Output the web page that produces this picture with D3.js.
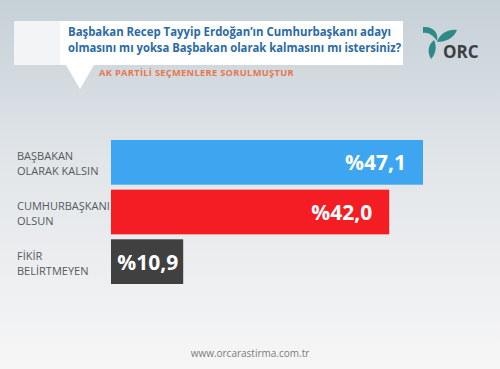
<!DOCTYPE html>
<html><head><meta charset="utf-8">
<script src="https://cdn.jsdelivr.net/npm/d3@7"></script>
<style>body{margin:0;padding:0;overflow:hidden}svg{display:block}</style>
</head><body>
<script>
const categories = [["BAŞBAKAN","OLARAK KALSIN"],["CUMHURBAŞKANI","OLSUN"],["FİKİR","BELİRTMEYEN"]];
const values = [47.1, 42.0, 10.9];
const valueLabels = ["%47,1","%42,0","%10,9"];
const barColors = ["#3ea5f0","#f41d24","#404040"];
const titleLines = ["Başbakan Recep Tayyip Erdoğan’ın Cumhurbaşkanı adayı","olmasını mı yoksa Başbakan olarak kalmasını mı istersiniz?"];
const subtitle = "AK PARTİLİ SEÇMENLERE SORULMUŞTUR";
const footer = "www.orcarastirma.com.tr";

const W=500,H=369;
const svg=d3.select("body").append("svg").attr("width",W).attr("height",H);
const defs=svg.append("defs");
const g=defs.append("linearGradient").attr("id","bg").attr("x1",0).attr("y1",0).attr("x2",0).attr("y2",1);
g.append("stop").attr("offset","0%").attr("stop-color","#c5d0d7");
g.append("stop").attr("offset","45%").attr("stop-color","#e2e6e9");
g.append("stop").attr("offset","100%").attr("stop-color","#f6f6f6");
svg.append("rect").attr("width",W).attr("height",H).attr("fill","url(#bg)");

// title box
svg.append("rect").attr("x",14).attr("y",21).attr("width",389).attr("height",44).attr("fill","#ffffff");
svg.append("rect").attr("x",14).attr("y",21).attr("width",46).attr("height",44).attr("fill","#f3f4f5");
svg.append("path").attr("d","M66,65 L94,65 L80,89 Z").attr("fill","#ffffff");
const titleLens=[323,333];
svg.append("g").selectAll("text").data(titleLines).join("text")
  .attr("x",68).attr("y",(d,i)=>36+i*16)
  .attr("font-family","Open Sans").attr("font-weight","bold").attr("font-size",12.5)
  .attr("textLength",(d,i)=>titleLens[i]).attr("lengthAdjust","spacingAndGlyphs")
  .attr("fill","#2b6aa6").text(d=>d);
svg.append("text").attr("x",99).attr("y",76).attr("font-family","Open Sans").attr("font-weight","bold")
  .attr("font-size",9.3).attr("fill","#e5784f").attr("letter-spacing",0.3).text(subtitle);

// logo
const logo=svg.append("g").attr("fill","#2d8a86");
logo.append("path").attr("d","M423,27 C433,26 439,33 437,41 C433,35 428,32 423,33 Z");
logo.append("path").attr("d","M437,42 C440,33 449,29 457,30 C454,38 446,42 437,42 Z");
logo.append("path").attr("d","M434,40 C428,45 427,52 431,59 C436,54 437,46 434,40 Z");
svg.append("text").attr("x",443).attr("y",58).attr("font-family","Open Sans").attr("font-weight","bold")
  .attr("font-size",17).attr("fill","#3a3f44").text("ORC");

// bars
const x=d3.scaleLinear().domain([0,47.1]).range([111,423]);
const y=d3.scaleBand().domain(d3.range(values.length)).range([140,284]).paddingInner(0.1).paddingOuter(0);
svg.append("g").selectAll("rect").data(values).join("rect")
  .attr("x",x(0)).attr("y",(d,i)=>y(i)).attr("width",d=>x(d)-x(0)).attr("height",y.bandwidth())
  .attr("fill",(d,i)=>barColors[i]);
svg.append("g").selectAll("text").data(values).join("text")
  .attr("x",(d,i)=>i===2?x(d)-5:x(d)-17).attr("y",(d,i)=>y(i)+y.bandwidth()/2+8)
  .attr("text-anchor","end").attr("font-family","Open Sans").attr("font-weight","bold")
  .attr("font-size",21).attr("fill","#ffffff").text((d,i)=>valueLabels[i]);
const lab=svg.append("g");
categories.forEach((c,i)=>{
  lab.append("g").selectAll("text").data(c).join("text")
   .attr("x",17).attr("y",(d,j)=>y(i)+y.bandwidth()/2-2+j*15)
   .attr("font-family","Open Sans").attr("font-size",11).attr("fill","#555a5e").text(d=>d);
});

svg.append("text").attr("x",250).attr("y",357).attr("text-anchor","middle").attr("font-family","Open Sans")
  .attr("font-size",10).attr("fill","#7a7d80").text(footer);
</script>
</body></html>
